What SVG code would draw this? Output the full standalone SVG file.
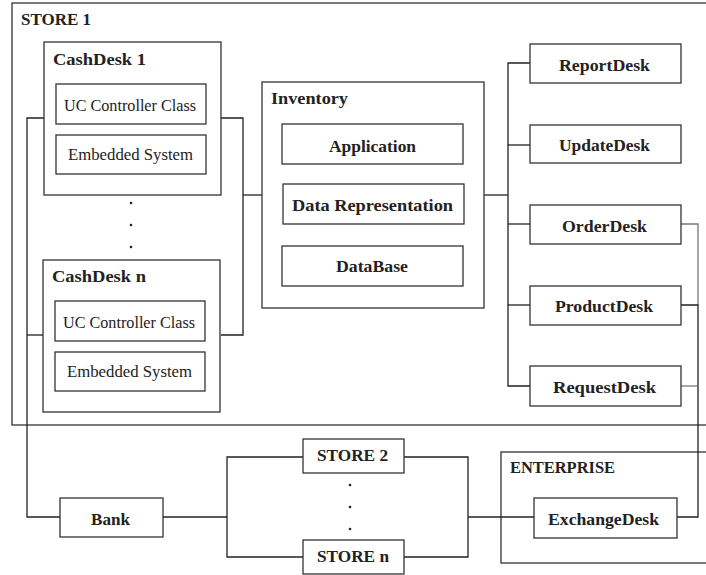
<svg xmlns="http://www.w3.org/2000/svg" width="706" height="575" viewBox="0 0 706 575">
<style>
.box{fill:#fff;stroke:#333;stroke-width:1.3}
.frame{fill:none;stroke:#333;stroke-width:1.3}
.ln{fill:none;stroke:#222;stroke-width:1.3}
.lg{fill:none;stroke:#777;stroke-width:1.3}
.b{font-family:'Liberation Serif','Times New Roman',Times,'DejaVu Serif',serif;font-weight:bold;font-size:16px;fill:#222}
.r{font-family:'Liberation Serif','Times New Roman',Times,'DejaVu Serif',serif;font-size:16px;fill:#222}
.dot{fill:#222}
</style>
<rect width="706" height="575" fill="#fff"/>
<g id="store1">
<rect class="frame" x="12" y="3" width="700" height="422"/>
<text class="b" x="21" y="25" textLength="70" lengthAdjust="spacingAndGlyphs">STORE 1</text>
</g>
<g id="enterprise">
<rect class="frame" x="501" y="452" width="210" height="111"/>
<text class="b" x="510" y="473" textLength="105" lengthAdjust="spacingAndGlyphs">ENTERPRISE</text>
</g>
<g id="connectors">
<path class="ln" d="M44,118 H27 V517 H60"/>
<path class="ln" d="M221,118 H243 V335 H221"/>
<path class="ln" d="M27,335 H44"/>
<path class="ln" d="M243,195 H262"/>
<path class="ln" d="M484,195 H508"/>
<path class="ln" d="M530,63 H508 V386 H530"/>
<path class="ln" d="M508,145 H530"/>
<path class="ln" d="M508,224 H530"/>
<path class="ln" d="M508,305 H530"/>
<path class="lg" d="M681,224 H698 V305"/>
<path class="ln" d="M681,305 H698 V517 H677"/>
<path class="lg" d="M681,386 H698"/>
<path class="ln" d="M163,517 H227"/>
<path class="ln" d="M303,457 H227 V557 H303"/>
<path class="ln" d="M404,457 H468 V557 H404"/>
<path class="ln" d="M468,517 H534"/>
</g>
<g id="cashdesk1">
<rect class="box" x="44" y="42" width="177" height="153"/>
<text class="b" x="53" y="65" textLength="93" lengthAdjust="spacingAndGlyphs">CashDesk 1</text>
</g>
<g id="uc1">
<rect class="box" x="56" y="84" width="150" height="40"/>
<text class="r" x="64" y="111" textLength="132" lengthAdjust="spacingAndGlyphs">UC Controller Class</text>
</g>
<g id="emb1">
<rect class="box" x="56" y="135" width="150" height="39"/>
<text class="r" x="68" y="160" textLength="125" lengthAdjust="spacingAndGlyphs">Embedded System</text>
</g>
<g id="dots1">
<circle class="dot" cx="131" cy="203" r="1.3"/>
<circle class="dot" cx="131" cy="225" r="1.3"/>
<circle class="dot" cx="131" cy="247" r="1.3"/>
</g>
<g id="cashdeskn">
<rect class="box" x="43" y="260" width="177" height="152"/>
<text class="b" x="52" y="282" textLength="94" lengthAdjust="spacingAndGlyphs">CashDesk n</text>
</g>
<g id="ucn">
<rect class="box" x="55" y="301" width="150" height="40"/>
<text class="r" x="63" y="328" textLength="132" lengthAdjust="spacingAndGlyphs">UC Controller Class</text>
</g>
<g id="embn">
<rect class="box" x="55" y="352" width="150" height="39"/>
<text class="r" x="67" y="377" textLength="125" lengthAdjust="spacingAndGlyphs">Embedded System</text>
</g>
<g id="inventory">
<rect class="box" x="262" y="82" width="222" height="226"/>
<text class="b" x="271" y="104" textLength="77" lengthAdjust="spacingAndGlyphs">Inventory</text>
</g>
<g id="application">
<rect class="box" x="282" y="124" width="181" height="40"/>
<text class="b" x="329" y="152" textLength="87" lengthAdjust="spacingAndGlyphs">Application</text>
</g>
<g id="datarep">
<rect class="box" x="283" y="184" width="181" height="40"/>
<text class="b" x="292" y="211" textLength="161" lengthAdjust="spacingAndGlyphs">Data Representation</text>
</g>
<g id="database">
<rect class="box" x="282" y="246" width="181" height="40"/>
<text class="b" x="336" y="272" textLength="72" lengthAdjust="spacingAndGlyphs">DataBase</text>
</g>
<g id="reportdesk">
<rect class="box" x="530" y="44" width="151" height="39"/>
<text class="b" x="559" y="71" textLength="91" lengthAdjust="spacingAndGlyphs">ReportDesk</text>
</g>
<g id="updatedesk">
<rect class="box" x="530" y="125" width="151" height="38"/>
<text class="b" x="559" y="151" textLength="91" lengthAdjust="spacingAndGlyphs">UpdateDesk</text>
</g>
<g id="orderdesk">
<rect class="box" x="530" y="205" width="151" height="39"/>
<text class="b" x="562" y="232" textLength="85" lengthAdjust="spacingAndGlyphs">OrderDesk</text>
</g>
<g id="productdesk">
<rect class="box" x="530" y="286" width="151" height="39"/>
<text class="b" x="555" y="312" textLength="98" lengthAdjust="spacingAndGlyphs">ProductDesk</text>
</g>
<g id="requestdesk">
<rect class="box" x="530" y="366" width="151" height="40"/>
<text class="b" x="553" y="393" textLength="103" lengthAdjust="spacingAndGlyphs">RequestDesk</text>
</g>
<g id="bank">
<rect class="box" x="60" y="498" width="103" height="39"/>
<text class="b" x="91" y="525" textLength="39" lengthAdjust="spacingAndGlyphs">Bank</text>
</g>
<g id="store2">
<rect class="box" x="303" y="439" width="101" height="34"/>
<text class="b" x="317" y="461" textLength="71" lengthAdjust="spacingAndGlyphs">STORE 2</text>
</g>
<g id="dots2">
<circle class="dot" cx="350" cy="485" r="1.3"/>
<circle class="dot" cx="350" cy="507" r="1.3"/>
<circle class="dot" cx="350" cy="529" r="1.3"/>
</g>
<g id="storen">
<rect class="box" x="303" y="540" width="101" height="34"/>
<text class="b" x="317" y="562" textLength="72" lengthAdjust="spacingAndGlyphs">STORE n</text>
</g>
<g id="exchangedesk">
<rect class="box" x="534" y="498" width="143" height="40"/>
<text class="b" x="548" y="525" textLength="111" lengthAdjust="spacingAndGlyphs">ExchangeDesk</text>
</g>
</svg>
